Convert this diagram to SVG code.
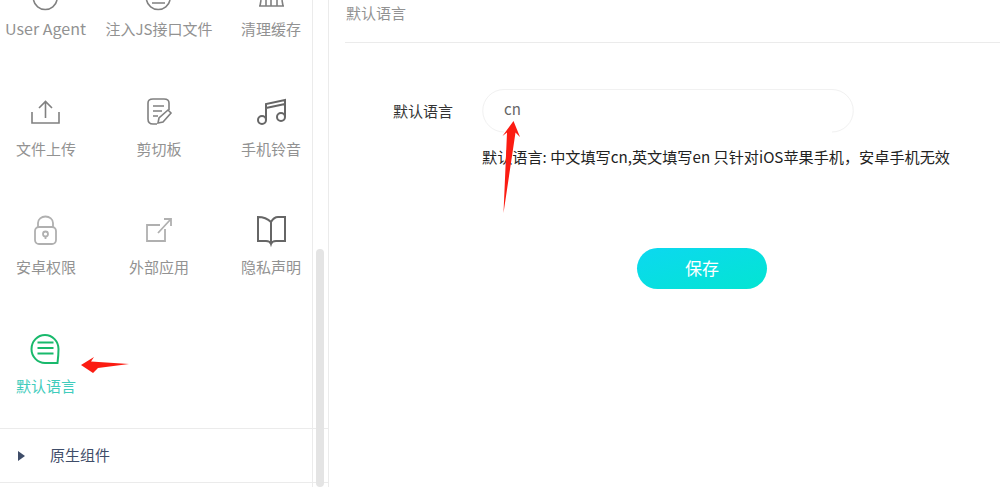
<svg xmlns="http://www.w3.org/2000/svg" width="1000" height="487" viewBox="0 0 1000 487">
<defs>
<linearGradient id="btn" x1="0" y1="0" x2="1" y2="1"><stop offset="0" stop-color="#0cd8f0"/><stop offset="1" stop-color="#03e5d2"/></linearGradient>
</defs>
<style>
text{font-family:"Noto Sans CJK SC","Liberation Sans",sans-serif}
.lb{font-size:15px;fill:#929292;text-anchor:middle}
.ic{fill:none;stroke:#808080;stroke-width:1.6}
.dk{fill:none;stroke:#666;stroke-width:2}
.lt{fill:none;stroke:#b0b0b0;stroke-width:1.8}
.ln{stroke:#ebebeb;stroke-width:1;fill:none}
.arrow{fill:#fb1c12}
</style>
<rect width="1000" height="487" fill="#fff"/>
<g id="sidebar-frame">
<path class="ln" d="M312.500 0V487M328.500 0V487M0 428.500H328M0 482.500H328M345 42.500H1000"/>
<rect x="316" y="249" width="8" height="238" rx="4" fill="#e4e4e4"/>
</g>
<g id="user-agent"><path class="ic" d="M33.500 0A12 12 0 0 0 57 0"/><text class="lb" x="45.500" y="35" textLength="81" lengthAdjust="spacingAndGlyphs">User Agent</text></g>
<g id="js-file"><path class="ic" d="M146.500 0A12 12 0 0 0 170 0M152 3H165"/><text class="lb" x="159" y="35">注入JS接口文件</text></g>
<g id="clear-cache"><path class="ic" d="M260 6L261 0M283 6L282 0M259 6H284M266 0V6M271 0V6M277 0V6"/><text class="lb" x="271" y="35">清理缓存</text></g>
<g id="upload"><path class="ic" d="M32 112V123H59V112M45.500 118V102M39 108L45.500 101.500L52 108"/><text class="lb" x="46" y="155">文件上传</text></g>
<g id="clipboard"><path class="ic" d="M157 124H153Q148 124 148 119V103Q148 99 153 99H164Q169 99 169 103V110M153 106H164M153 111H162M153 116H158"/><path class="ic" d="M158 123L159 118L168 110L171 113L163 122Z"/><text class="lb" x="159" y="155">剪切板</text></g>
<g id="ringtone"><circle class="dk" cx="262" cy="120" r="4"/><circle class="dk" cx="281" cy="117" r="4"/><path class="dk" d="M266 120V104L285 100V117M266 108L285 104"/><text class="lb" x="271" y="155">手机铃音</text></g>
<g id="android-perm"><rect class="lt" x="35" y="227" width="21" height="17" rx="4"/><path class="lt" d="M38 227V223A7.500 6.500 0 0 1 53 223V227"/><circle class="lt" cx="45.500" cy="234" r="2.500"/><path class="lt" d="M45.500 236V239"/><text class="lb" x="46" y="273">安卓权限</text></g>
<g id="external-app"><path class="lt" d="M160 225H147V241H165V229M158 233L170 220M164 219H171V226"/><text class="lb" x="159" y="273">外部应用</text></g>
<g id="privacy"><path class="dk" d="M271 222Q266 217 258 217V241H266Q270 241 271 244Q272 241 276 241H285V217H278Q274 217 271 222V243"/><text class="lb" x="271" y="273">隐私声明</text></g>
<g id="default-language-nav"><path d="M45 363A13.500 14 0 1 1 58.500 349Q58.500 355 57.500 363Z" fill="none" stroke="#19b96c" stroke-width="2"/><path d="M37.500 342.500H53.500M37.500 348H53.500M37.500 353.500H53.500" stroke="#19b96c" stroke-width="2"/><text x="46" y="392" font-size="15" fill="#3fccbc" text-anchor="middle">默认语言</text></g>
<g id="native-group"><path d="M18 451L25 456L18 461Z" fill="#3f4d69"/><text x="80" y="461" font-size="15" fill="#3f4d69" text-anchor="middle">原生组件</text></g>
<g id="title"><text x="346" y="19" font-size="15" fill="#929292">默认语言</text></g>
<g id="form">
<text x="393" y="117" font-size="15" fill="#333">默认语言</text>
<path d="M832 132A21.250 21.250 0 0 0 832 89.500H504A21.250 21.250 0 0 0 504 132" fill="#fff" stroke="#f1f1f1"/>
<text x="504" y="115" font-size="15" fill="#666" font-family="Liberation Sans">cn</text>
<text x="482" y="163" font-size="15" fill="#222" textLength="468" lengthAdjust="spacingAndGlyphs">默认语言: 中文填写cn,英文填写en 只针对iOS苹果手机，安卓手机无效</text>
</g>
<g id="save"><rect x="637" y="248" width="130" height="41" rx="20.500" fill="url(#btn)"/><text x="702" y="275" font-size="17" fill="#fff" text-anchor="middle">保存</text></g>
<g id="connectors">
<path class="arrow" d="M513.500 121L502.500 136L507 132.500L503.500 213L515.500 132.500L520 137Z"/>
<path class="arrow" d="M81 365L94 357L91 361.500L129 364L98 368L93 373Z"/>
</g>
</svg>
